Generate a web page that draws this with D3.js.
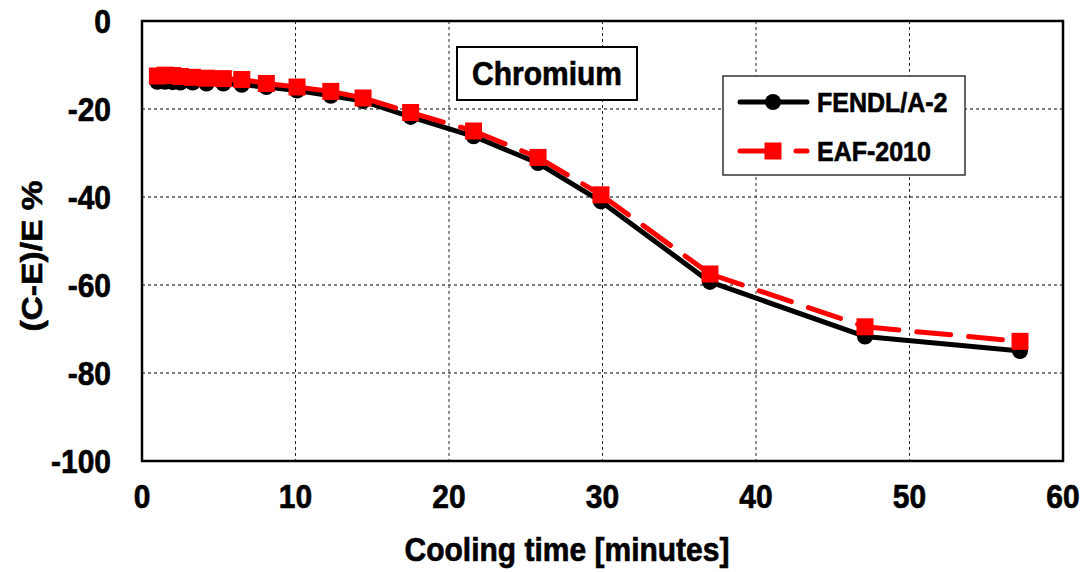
<!DOCTYPE html>
<html>
<head>
<meta charset="utf-8">
<script src="https://cdn.jsdelivr.net/npm/d3@7"></script>
<style>
  body { margin: 0; background: #fff; }
  text { font-family: "Liberation Sans", Arial, sans-serif; font-weight: bold; fill: #000; stroke: #000; stroke-width: 0.6px; }
</style>
</head>
<body>
<div id="chart"></div>
<script>
// cooling time (minutes)
var times = [1.0, 1.5, 2.0, 2.5, 3.3, 4.2, 5.3, 6.5, 8.1, 10.1, 12.3, 14.4, 17.5, 21.6, 25.8, 29.9, 37.0, 47.1, 57.2];
// (C-E)/E % for each library
var fendl = [-13.8, -13.8, -13.9, -14.0, -14.0, -14.2, -14.2, -14.5, -15.0, -15.8, -17.0, -18.2, -21.8, -26.2, -32.3, -41.0, -59.3, -71.7, -75.0];
var eaf   = [-12.5, -12.3, -12.4, -12.6, -12.8, -13.0, -13.1, -13.3, -14.2, -15.0, -16.0, -17.5, -20.8, -25.0, -31.0, -39.5, -57.5, -69.5, -72.8];
var seriesNames = ["FENDL/A-2", "EAF-2010"];
var xTicks = [0, 10, 20, 30, 40, 50, 60];
var yTicks = [0, -20, -40, -60, -80, -100];

!function(){
var W = 1086, H = 572;
var pl = 142, pr = 1063, pt = 21, pb = 461;

var svg = d3.select("#chart").append("svg").attr("width", W).attr("height", H);

var x = d3.scaleLinear().domain([0, 60]).range([pl, pr]);
var y = d3.scaleLinear().domain([-100, 0]).range([pb, pt]);

// stretched text like the original (taller than wide)
function tall(sel, tx, ty, rot){
  return sel.attr("transform", "translate(" + tx + "," + ty + ")" + (rot ? " rotate(" + rot + ")" : "") + " scale(1,1.12)");
}

// grid
svg.append("g").selectAll("line").data(xTicks.slice(1, -1)).enter().append("line")
  .attr("x1", function(d){ return x(d); }).attr("x2", function(d){ return x(d); })
  .attr("y1", pt).attr("y2", pb)
  .attr("stroke", "#222").attr("stroke-width", 1).attr("stroke-dasharray", "3,3");
svg.append("g").selectAll("line").data(yTicks.slice(1, -1)).enter().append("line")
  .attr("x1", pl).attr("x2", pr)
  .attr("y1", function(d){ return y(d); }).attr("y2", function(d){ return y(d); })
  .attr("stroke", "#555").attr("stroke-width", 1.5).attr("stroke-dasharray", "3,3");

// plot border
svg.append("rect").attr("x", pl).attr("y", pt).attr("width", pr - pl).attr("height", pb - pt)
  .attr("fill", "none").attr("stroke", "#000").attr("stroke-width", 2.5);

// axis tick labels
svg.append("g").selectAll("text").data(xTicks).enter().append("text")
  .each(function(d){ tall(d3.select(this), x(d), 508); })
  .attr("text-anchor", "middle").style("font-size", "30px")
  .text(function(d){ return d; });
svg.append("g").selectAll("text").data(yTicks).enter().append("text")
  .each(function(d){ tall(d3.select(this), 111, y(d) + 12); })
  .attr("text-anchor", "end").style("font-size", "30px")
  .text(function(d){ return d; });

// axis titles
tall(svg.append("text"), 567, 561).attr("text-anchor", "middle")
  .style("font-size", "30px").text("Cooling time [minutes]");
svg.append("text").attr("transform", "translate(42,256) rotate(-90) scale(1.12,1)").attr("text-anchor", "middle")
  .style("font-size", "30px").text("(C-E)/E %");

// data
var d1 = times.map(function(t, i){ return [t, fendl[i]]; });
var d2 = times.map(function(t, i){ return [t, eaf[i]]; });

var line = d3.line().x(function(d){ return x(d[0]); }).y(function(d){ return y(d[1]); });

svg.append("path").datum(d1).attr("d", line)
  .attr("fill", "none").attr("stroke", "#000").attr("stroke-width", 5).attr("stroke-linejoin", "round");
svg.append("g").selectAll("circle").data(d1).enter().append("circle")
  .attr("cx", function(d){ return x(d[0]); }).attr("cy", function(d){ return y(d[1]); })
  .attr("r", 8).attr("fill", "#000");

// red dashed: each segment restarts the dash pattern
var segs = d3.pairs(d2);
svg.append("g").selectAll("path").data(segs).enter().append("path")
  .attr("d", function(d){ return line(d); })
  .attr("fill", "none").attr("stroke", "#ff0000").attr("stroke-width", 5)
  .attr("stroke-linecap", "round").attr("stroke-dasharray", "34,18");
var sq = 17;
svg.append("g").selectAll("rect").data(d2).enter().append("rect")
  .attr("x", function(d){ return x(d[0]) - sq / 2; }).attr("y", function(d){ return y(d[1]) - sq / 2; })
  .attr("width", sq).attr("height", sq).attr("fill", "#ff0000");

// title box
svg.append("rect").attr("x", 457).attr("y", 47).attr("width", 180).attr("height", 53)
  .attr("fill", "#fff").attr("stroke", "#000").attr("stroke-width", 2);
tall(svg.append("text"), 547, 85).attr("text-anchor", "middle")
  .style("font-size", "30px").text("Chromium");

// legend
var lg = svg.append("g");
lg.append("rect").attr("x", 723).attr("y", 76).attr("width", 242).attr("height", 99)
  .attr("fill", "#fff").attr("stroke", "#333").attr("stroke-width", 1.5);
var rows = [102, 151];
lg.append("line").attr("x1", 740).attr("x2", 807).attr("y1", rows[0]).attr("y2", rows[0])
  .attr("stroke", "#000").attr("stroke-width", 5).attr("stroke-linecap", "round");
lg.append("circle").attr("cx", 773).attr("cy", rows[0]).attr("r", 8).attr("fill", "#000");
lg.append("line").attr("x1", 740).attr("x2", 807).attr("y1", rows[1]).attr("y2", rows[1])
  .attr("stroke", "#ff0000").attr("stroke-width", 5).attr("stroke-linecap", "round")
  .attr("stroke-dasharray", "35,21,13,100");
lg.append("rect").attr("x", 773 - sq / 2).attr("y", rows[1] - sq / 2).attr("width", sq).attr("height", sq)
  .attr("fill", "#ff0000");
lg.selectAll("text").data(seriesNames).enter().append("text")
  .each(function(d, i){ tall(d3.select(this), 817, rows[i] + 10); })
  .style("font-size", "25px").text(function(d){ return d; });
}();
</script>
</body>
</html>
